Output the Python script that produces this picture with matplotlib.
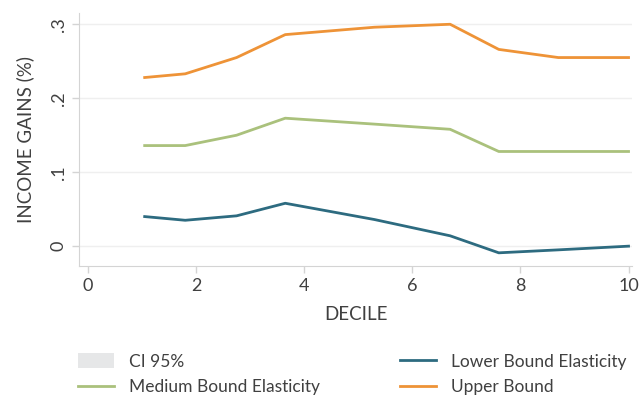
import matplotlib
matplotlib.use("Agg")
import matplotlib.pyplot as plt
from matplotlib.patches import Patch
from matplotlib.lines import Line2D

# decile positions where the estimates are evaluated
decile = [1.05, 1.8, 2.75, 3.65, 5.3, 6.7, 7.6, 8.7, 10]
upper_bound = [0.228, 0.233, 0.255, 0.286, 0.296, 0.300, 0.266, 0.255, 0.255]
medium_bound = [0.136, 0.136, 0.150, 0.173, 0.165, 0.158, 0.128, 0.128, 0.128]
lower_bound = [0.040, 0.035, 0.041, 0.058, 0.036, 0.014, -0.009, -0.005, 0.000]

x_ticks = [0, 2, 4, 6, 8, 10]
y_ticks = [0, 0.1, 0.2, 0.3]
y_tick_labels = ["0", ".1", ".2", ".3"]

C_UPPER = "#ee9337"
C_MEDIUM = "#aac17c"
C_LOWER = "#2d6b80"
C_CI = "#e6e7e8"
TXT = "#404040"
AXC = "#d4d4d4"

plt.rcParams["font.family"] = ["Lato", "DejaVu Sans"]

fig = plt.figure(figsize=(6.4, 3.99), dpi=100)
ax = fig.add_axes([0.123, 0.333, 0.865, 0.634])

ax.plot(decile, upper_bound, color=C_UPPER, lw=2)
ax.plot(decile, medium_bound, color=C_MEDIUM, lw=2)
ax.plot(decile, lower_bound, color=C_LOWER, lw=2)

ax.set_xlim(-0.17, 10.07)
ax.set_ylim(-0.027, 0.315)
ax.set_xticks(x_ticks)
ax.set_yticks(y_ticks)
ax.set_yticklabels(y_tick_labels, rotation=90, va="center")
ax.tick_params(colors=AXC, labelcolor=TXT, labelsize=13, length=5, width=1)
ax.grid(axis="y", color="#efefef", lw=1)
ax.set_axisbelow(True)
for side in ("top", "right"):
    ax.spines[side].set_visible(False)
for side in ("left", "bottom"):
    ax.spines[side].set_color(AXC)

ax.set_xlabel("DECILE", fontsize=13.5, color=TXT, labelpad=9)
ax.set_ylabel("INCOME GAINS (%)", fontsize=13.5, color=TXT, labelpad=12)

handles = [
    Patch(facecolor=C_CI, edgecolor="none", label="CI 95%"),
    Line2D([], [], color=C_MEDIUM, lw=2, label="Medium Bound Elasticity"),
    Line2D([], [], color=C_LOWER, lw=2, label="Lower Bound Elasticity"),
    Line2D([], [], color=C_UPPER, lw=2, label="Upper Bound"),
]
fig.legend(handles=handles, ncol=2, loc="lower left",
           bbox_to_anchor=(0.097, -0.03), frameon=False, fontsize=12.5,
           labelcolor=TXT, handlelength=2.1, handleheight=0.9,
           handletextpad=0.85, columnspacing=4.6, labelspacing=0.55)

fig.savefig("out.png", dpi=100)
